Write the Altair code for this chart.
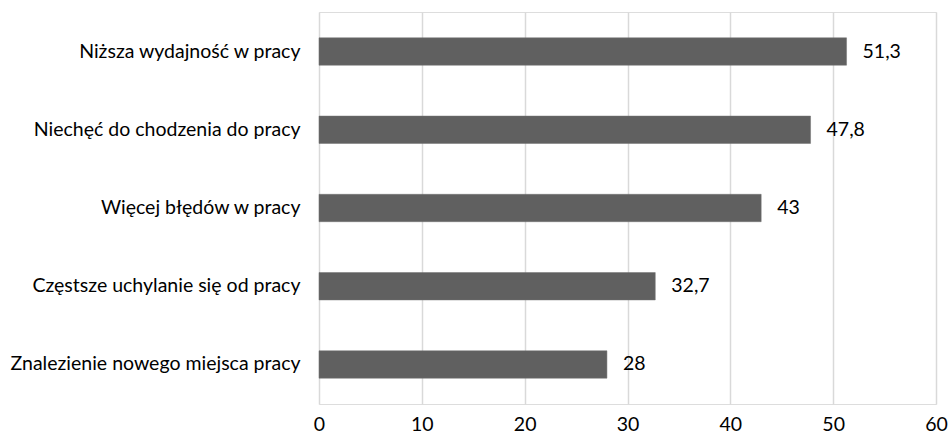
import altair as alt
import pandas as pd

categories = [
    "Niższa wydajność w pracy",
    "Niechęć do chodzenia do pracy",
    "Więcej błędów w pracy",
    "Częstsze uchylanie się od pracy",
    "Znalezienie nowego miejsca pracy",
]
values = [51.3, 47.8, 43, 32.7, 28]

df = pd.DataFrame({"cat": categories, "v": values})

FONT = "Lato"
FS = 19.5

base = alt.Chart(df).encode(
    y=alt.Y("cat:N", sort=categories, title=None,
            scale=alt.Scale(paddingInner=0.65, paddingOuter=0.33),
            axis=alt.Axis(domain=False, ticks=False, labelFontSize=FS, labelFont=FONT,
                          labelColor="#000000", labelPadding=19, labelLimit=400)),
)

bars = base.mark_bar(color="#606060", stroke="#707070", strokeWidth=0.5).encode(
    x=alt.X("v:Q", title=None,
            scale=alt.Scale(domain=[0, 60], nice=False),
            axis=alt.Axis(values=[0, 10, 20, 30, 40, 50, 60], domain=False, ticks=False,
                          grid=True, gridColor="#d9d9d9", gridWidth=1.5,
                          labelFontSize=FS, labelFont=FONT, labelColor="#000000",
                          labelPadding=11, labelFlush=False)),
)

labels = base.mark_text(align="left", baseline="middle", dx=16, fontSize=FS, font=FONT,
                        color="#000000").transform_calculate(
    lab="replace(toString(datum.v), '.', ',')"
).encode(x="v:Q", text="lab:N")

chart = (bars + labels).properties(
    width=617, height=392,
    padding={"left": 319, "top": 12, "right": 15, "bottom": 34},
    autosize=alt.AutoSizeParams(type="none"),
).configure_view(stroke=None).configure(background="#ffffff")

chart.save("out.html", embed_options={"renderer": "svg", "actions": False})
